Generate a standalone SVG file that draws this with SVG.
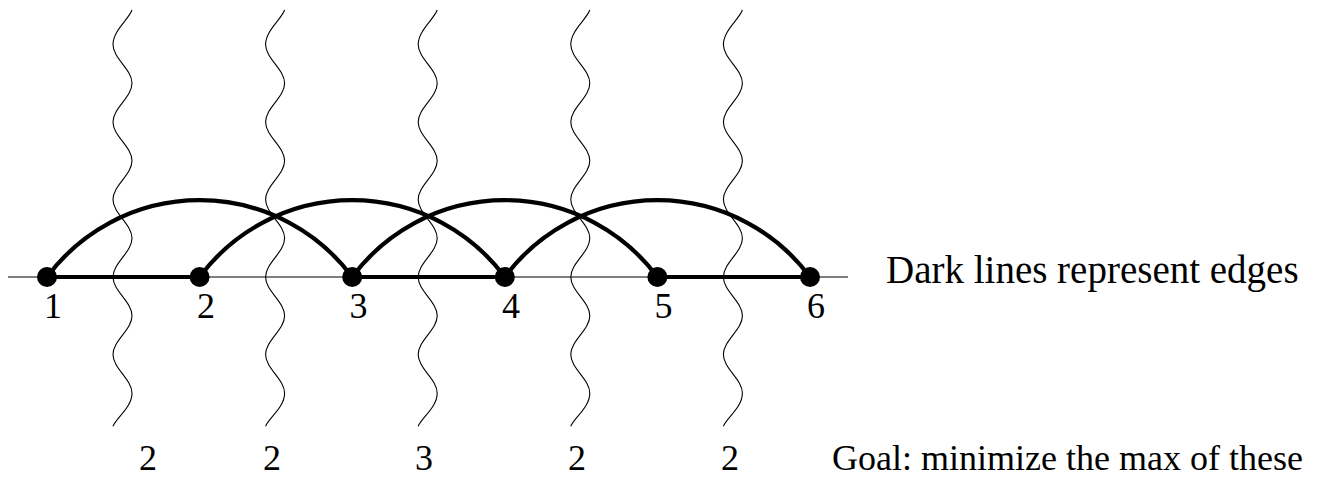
<svg xmlns="http://www.w3.org/2000/svg" xmlns:xlink="http://www.w3.org/1999/xlink" width="1317" height="479" viewBox="0 0 1317 479">
<style>
.wave{fill:none;stroke:#000;stroke-width:1.1}
.axis{stroke:#000;stroke-width:1.2;fill:none}
.edge{stroke:#000;stroke-width:4.2;fill:none;stroke-linecap:round}
.node{fill:#000}
text{font-family:"Liberation Serif","Times New Roman",serif;font-size:36px;fill:#000}
.big{font-size:39px}
</style>
<defs>
<path id="wave" class="wave" d="M9.5,10 c-3,9 -19,20.43 -19,34.5 s19,24.68 19,38.75 s-19,24.68 -19,38.75 s19,24.68 19,38.75 s-19,24.68 -19,38.75 s19,24.68 19,38.75 s-19,24.68 -19,38.75 s19,24.68 19,38.75 s-19,24.68 -19,38.75 s19,24.68 19,38.75 c0,14.07 -16,25 -19,33"/>
</defs>
<g id="axis"><line class="axis" x1="8" y1="277" x2="848" y2="277"/></g>
<g id="cuts">
<use xlink:href="#wave" x="122.5"/>
<use xlink:href="#wave" x="275.1"/>
<use xlink:href="#wave" x="427.7"/>
<use xlink:href="#wave" x="580.3"/>
<use xlink:href="#wave" x="732.9"/>
</g>
<g id="connectors">
<line class="edge" x1="47" y1="277" x2="199.6" y2="277"/>
<line class="edge" x1="352.2" y1="277" x2="504.8" y2="277"/>
<line class="edge" x1="657.4" y1="277" x2="810" y2="277"/>
<path class="edge" d="M47,277 A190,190 0 0 1 352.2,277"/>
<path class="edge" d="M199.6,277 A190,190 0 0 1 504.8,277"/>
<path class="edge" d="M352.2,277 A190,190 0 0 1 657.4,277"/>
<path class="edge" d="M504.8,277 A190,190 0 0 1 810,277"/>
</g>
<g id="n1"><circle class="node" cx="47" cy="277" r="10"/><text x="44" y="318">1</text></g>
<g id="n2"><circle class="node" cx="199.6" cy="277" r="10"/><text x="197" y="318">2</text></g>
<g id="n3"><circle class="node" cx="352.2" cy="277" r="10"/><text x="349.5" y="318">3</text></g>
<g id="n4"><circle class="node" cx="504.8" cy="277" r="10"/><text x="502" y="318">4</text></g>
<g id="n5"><circle class="node" cx="657.4" cy="277" r="10"/><text x="654.5" y="318">5</text></g>
<g id="n6"><circle class="node" cx="810" cy="277" r="10"/><text x="807" y="318">6</text></g>
<g id="cut-labels" text-anchor="middle">
<text x="148" y="470">2</text>
<text x="272" y="470">2</text>
<text x="424" y="470">3</text>
<text x="577" y="470">2</text>
<text x="730" y="470">2</text>
</g>
<g id="notes">
<text class="big" x="886" y="283">Dark lines represent edges</text>
<text x="832" y="470">Goal: minimize the max of these</text>
</g>
</svg>
